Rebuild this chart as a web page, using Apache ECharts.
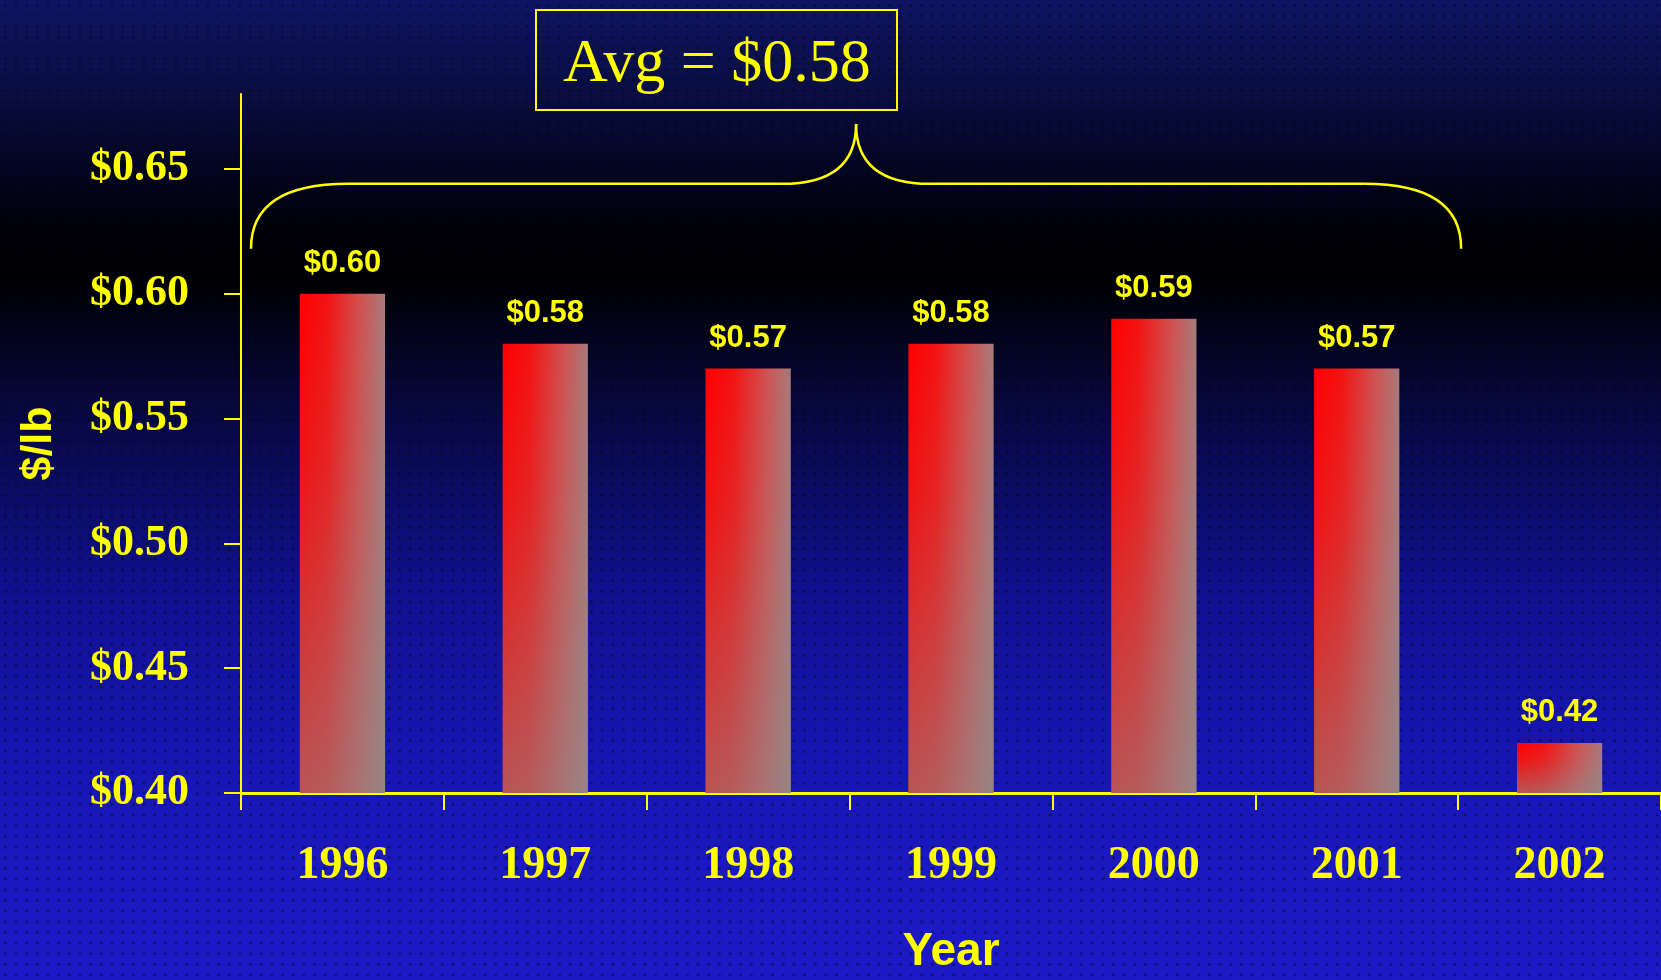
<!DOCTYPE html>
<html>
<head>
<meta charset="utf-8">
<title>Price per pound by year</title>
<script src="https://cdn.jsdelivr.net/npm/echarts@6/dist/echarts.min.js"></script>
<style>
  html, body { margin: 0; padding: 0; width: 100%; height: 100%; overflow: hidden; }
  #wrap {
    position: absolute; left: 0; top: 0; width: 1661px; height: 980px;
    background:
      radial-gradient(circle, rgba(0,0,0,0.38) 1.1px, rgba(0,0,0,0) 1.9px) 0 0 / 10.67px 10.67px,
      linear-gradient(to bottom,
        #0f1462 0%, #0a0e44 9%, #03041e 18%, #000006 24%, #000004 29%,
        #05062e 38%, #0a0b5a 48%, #10108e 60%, #1515ad 74%, #1a18bf 88%, #1c1ac6 100%);
  }
  #chart { position: absolute; left: 0; top: 0; width: 1661px; height: 980px; }
</style>
</head>
<body>
<div id="wrap"><div id="chart"></div></div>
<script>
// Yearly average price, dollars per pound
const years = ['1996', '1997', '1998', '1999', '2000', '2001', '2002'];
const prices = [0.60, 0.58, 0.57, 0.58, 0.59, 0.57, 0.42];
const yTicks = [0.40, 0.45, 0.50, 0.55, 0.60, 0.65];
const averageText = 'Avg = $0.58';
// Brace over 1996-2001: flat level, end level and peak level in $/lb
const braceFlat = 0.644;
const braceEnd = 0.618;
const bracePeak = 0.668;

const YELLOW = '#ffff00';
const SANS = '"Liberation Sans", Arial, sans-serif';
const SERIF = '"Liberation Serif", "Times New Roman", serif';

const chart = echarts.init(document.getElementById('chart'), null, { renderer: 'canvas' });

// Red on the left fading to grey on the right ...
const barFill = new echarts.graphic.LinearGradient(0, 0, 1, 0, [
  { offset: 0, color: '#ff0000' },
  { offset: 0.32, color: '#f41212' },
  { offset: 0.72, color: '#d05252' },
  { offset: 1, color: '#a87a7a' }
]);
// ... and a grey wash that thickens toward the bottom of each column
const barShade = new echarts.graphic.LinearGradient(0, 0, 0, 1, [
  { offset: 0, color: 'rgba(140,140,140,0)' },
  { offset: 0.35, color: 'rgba(140,140,140,0.15)' },
  { offset: 1, color: 'rgba(140,140,140,0.6)' }
]);

const labelStyle = {
  show: true,
  position: 'top',
  distance: 15,
  formatter: p => '$' + p.value.toFixed(2),
  color: YELLOW,
  fontFamily: SANS,
  fontWeight: 'bold',
  fontSize: 31
};

chart.setOption({
  backgroundColor: 'transparent',
  animation: false,
  title: {
    text: averageText,
    left: 536,
    top: 10,
    padding: [24, 27, 14, 27],
    borderColor: YELLOW,
    borderWidth: 2,
    textStyle: {
      color: YELLOW,
      fontFamily: SERIF,
      fontWeight: 'normal',
      fontSize: 62,
      lineHeight: 62
    }
  },
  grid: { left: 241, right: 0, top: 94, bottom: 180, containLabel: false },
  xAxis: {
    type: 'category',
    data: years,
    boundaryGap: true,
    name: 'Year',
    nameLocation: 'middle',
    nameGap: 136,
    nameTextStyle: {
      color: YELLOW,
      fontFamily: SANS,
      fontWeight: 'bold',
      fontSize: 46
    },
    axisLine: { lineStyle: { color: YELLOW, width: 3 } },
    axisTick: { show: true, alignWithLabel: false, length: 17, lineStyle: { color: YELLOW, width: 2 } },
    axisLabel: {
      color: YELLOW,
      margin: 50,
      fontFamily: SERIF,
      fontWeight: 'bold',
      fontSize: 46
    },
    splitLine: { show: false }
  },
  yAxis: {
    type: 'value',
    min: 0.40,
    max: 0.68,
    interval: 0.05,
    name: '$/lb',
    nameLocation: 'middle',
    nameGap: 180,
    nameRotate: 90,
    nameTextStyle: {
      color: YELLOW,
      fontFamily: SANS,
      fontWeight: 'bold',
      fontSize: 43
    },
    axisLine: { show: true, lineStyle: { color: YELLOW, width: 2 } },
    axisTick: { show: true, length: 17, customValues: yTicks, lineStyle: { color: YELLOW, width: 2 } },
    axisLabel: {
      color: YELLOW,
      margin: 52,
      customValues: yTicks,
      formatter: v => '$' + v.toFixed(2),
      fontFamily: SERIF,
      fontWeight: 'bold',
      fontSize: 44
    },
    splitLine: { show: false }
  },
  series: [
    {
      type: 'bar',
      data: prices,
      barWidth: '42%',
      itemStyle: { color: barFill },
      label: labelStyle
    },
    {
      type: 'bar',
      data: prices,
      barWidth: '42%',
      barGap: '-100%',
      silent: true,
      itemStyle: { color: barShade }
    }
  ]
});

// Curly brace spanning the 1996-2001 columns, peak pointing up at the average box
function drawBrace() {
  const c0 = chart.convertToPixel({ xAxisIndex: 0 }, 0);
  const c1 = chart.convertToPixel({ xAxisIndex: 0 }, 1);
  const band = c1 - c0;
  const left = c0 - band / 2 + 10;
  const right = c0 + band * 5.5 + 3;
  const mid = (left + right) / 2;
  const yFlat = chart.convertToPixel({ yAxisIndex: 0 }, braceFlat);
  const yEnd = chart.convertToPixel({ yAxisIndex: 0 }, braceEnd);
  const yPeak = chart.convertToPixel({ yAxisIndex: 0 }, bracePeak);
  const endRun = 97;
  const peakRun = 74;
  const stroke = { fill: null, stroke: YELLOW, lineWidth: 2.5 };
  const curve = (x1, y1, cx, cy, x2, y2) => ({
    type: 'bezierCurve', silent: true,
    shape: { x1, y1, x2, y2, cpx1: cx, cpy1: cy },
    style: stroke
  });
  const seg = (x1, y1, x2, y2) => ({
    type: 'line', silent: true,
    shape: { x1, y1, x2, y2 },
    style: stroke
  });
  chart.setOption({
    graphic: [
      curve(left, yEnd, left, yFlat, left + endRun, yFlat),
      seg(left + endRun, yFlat, mid - peakRun, yFlat),
      curve(mid - peakRun, yFlat, mid, yFlat, mid, yPeak),
      curve(mid, yPeak, mid, yFlat, mid + peakRun, yFlat),
      seg(mid + peakRun, yFlat, right - endRun, yFlat),
      curve(right - endRun, yFlat, right, yFlat, right, yEnd)
    ]
  });
}
drawBrace();
</script>
</body>
</html>
